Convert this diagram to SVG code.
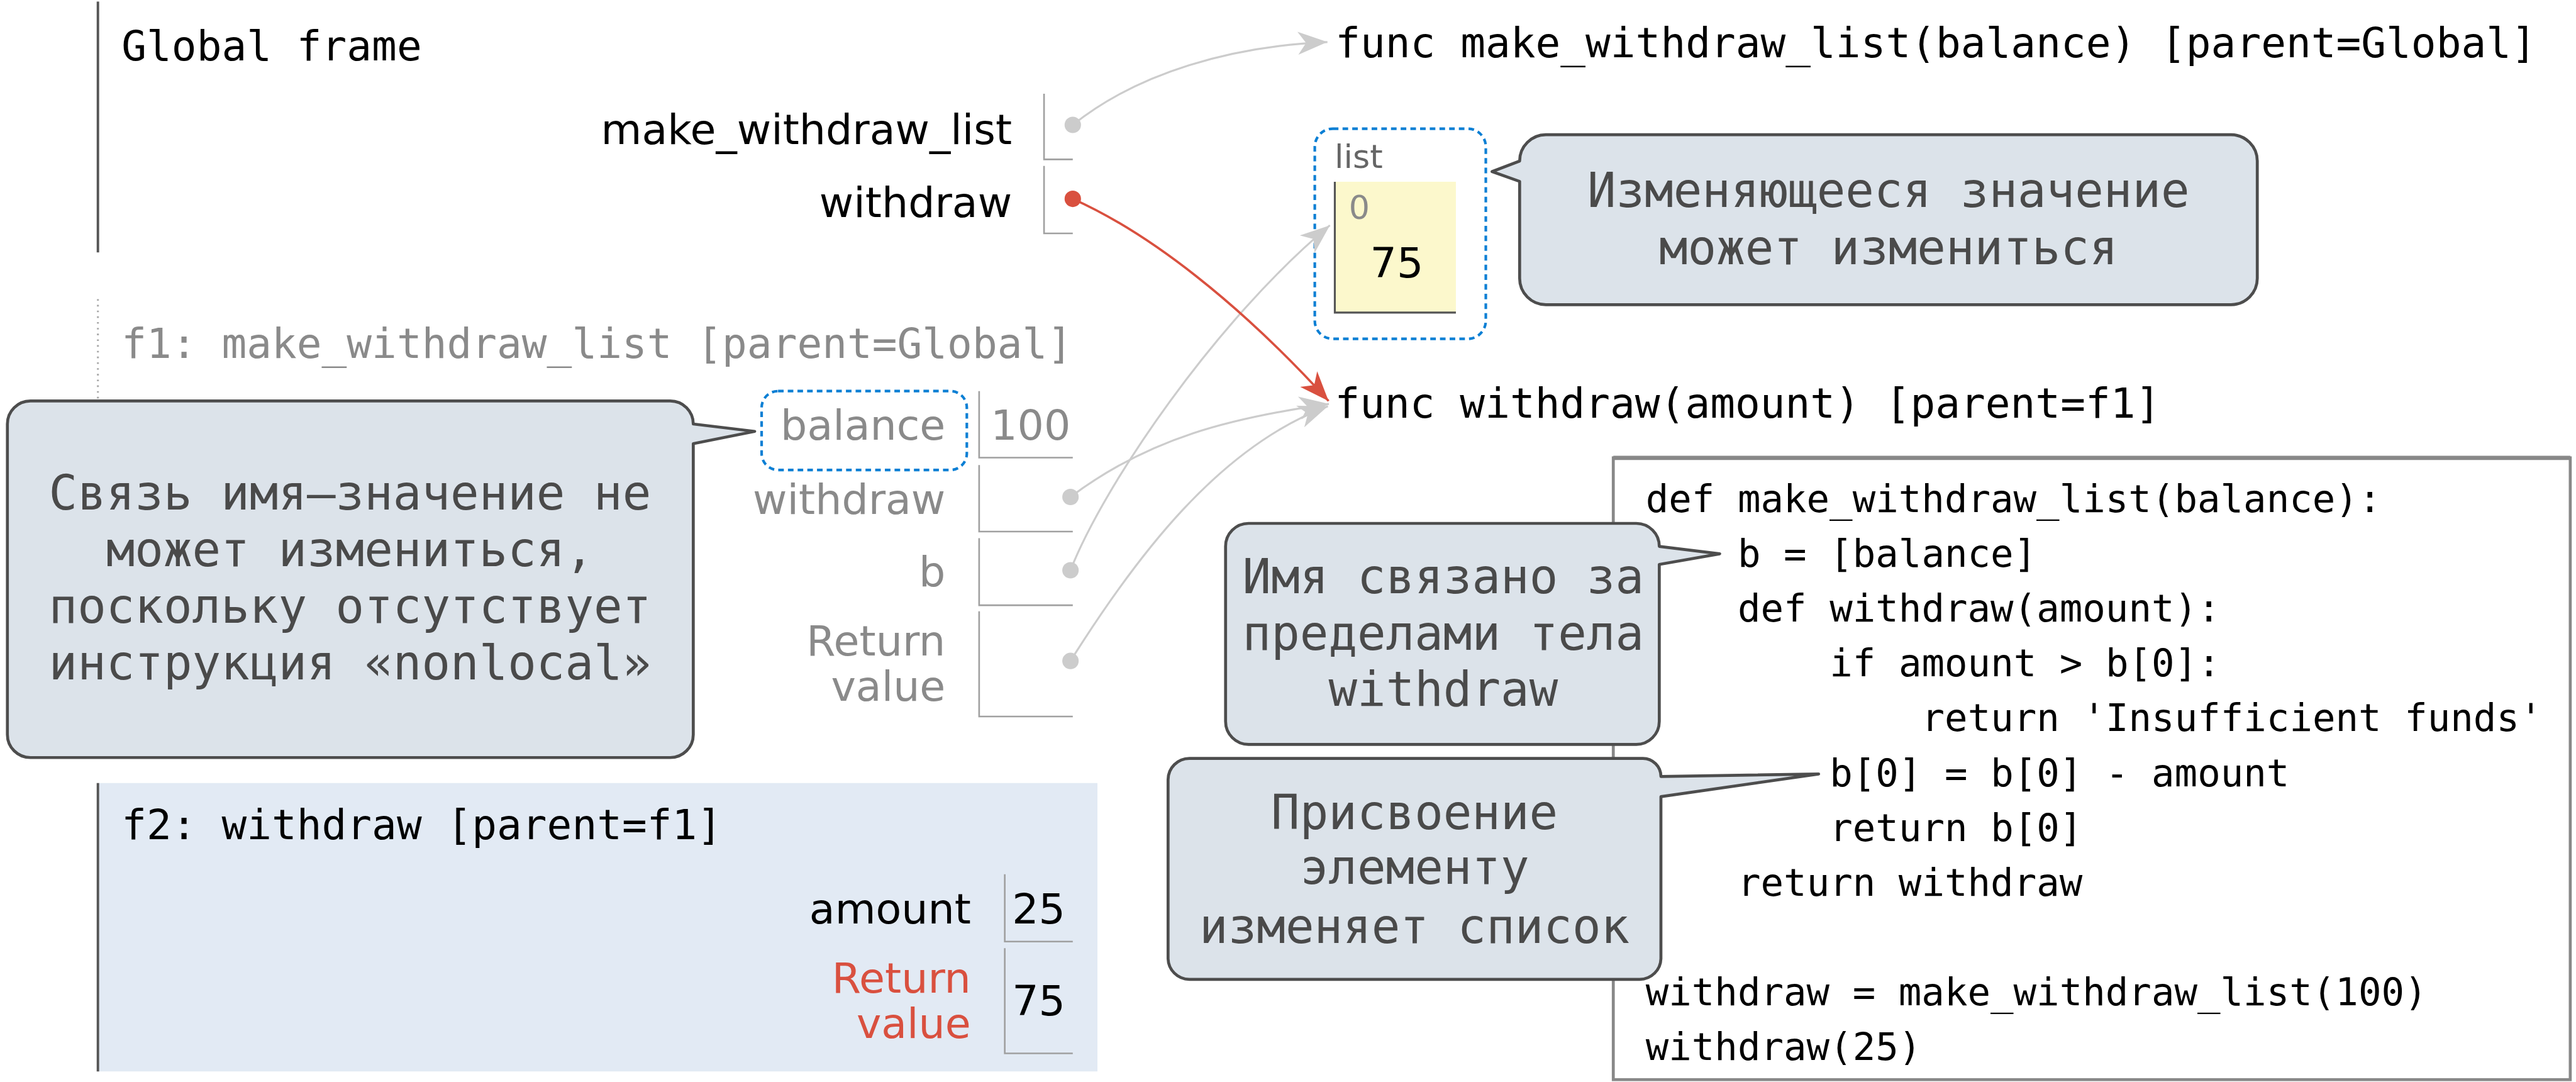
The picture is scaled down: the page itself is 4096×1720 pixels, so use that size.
<svg xmlns="http://www.w3.org/2000/svg" width="4096" height="1720" viewBox="0 0 4096 1720">
<defs>
<style>
.mono{font-family:"DejaVu Sans Mono","Liberation Mono",monospace}
.sans{font-family:"DejaVu Sans","Liberation Sans",sans-serif}
.title{font-size:25.3px;fill:#000}
.lbl{font-size:25.5px;text-anchor:end;fill:#000}
.val{font-size:25.5px;fill:#000}
.dim{fill:#8a8a8a}
.red{fill:#d9503f}
.code{font-size:23.25px;fill:#000}
.note{font-size:29px;fill:#4a4a4a;text-anchor:middle}
.callout{fill:#dce3ea;stroke:#4d4d4d;stroke-width:1.8;stroke-linejoin:round}
.cell{fill:none;stroke:#a0a0a0;stroke-width:1}
.ptr{fill:none;stroke:#cccccc;stroke-width:1.2}
.ptr-red{fill:none;stroke:#d9503f;stroke-width:1.4}
.dot{fill:#cccccc}
.dot-red{fill:#d9503f}
.hl{fill:none;stroke:#0b7fd4;stroke-width:1.6;stroke-dasharray:3.4 2.5}
</style>
<marker id="ah-gray" viewBox="-20 -9 22 18" markerWidth="22" markerHeight="18" refX="0" refY="0" orient="auto" markerUnits="userSpaceOnUse" overflow="visible">
<path d="M0,0 L-18,-7 L-13,0 L-18,7 Z" fill="#cccccc"/>
</marker>
<marker id="ah-red" viewBox="-20 -9 22 18" markerWidth="22" markerHeight="18" refX="0" refY="0" orient="auto" markerUnits="userSpaceOnUse" overflow="visible">
<path d="M0,0 L-18,-7 L-13,0 L-18,7 Z" fill="#d9503f"/>
</marker>
</defs>
<rect width="4096" height="1720" fill="#ffffff"/>
<g transform="scale(2.612245)">

<g id="global-frame">
<line x1="59.6" y1="1" x2="59.6" y2="153.6" stroke="#555" stroke-width="1.5"/>
<text x="74" y="36.6" class="mono title">Global frame</text>
</g>
<g id="global-make_withdraw_list">
<text x="616" y="87.6" class="sans lbl">make_withdraw_list</text>
<path d="M635.5,57 V97 H653" class="cell"/>
</g>
<g id="global-withdraw">
<text x="616" y="132" class="sans lbl">withdraw</text>
<path d="M635.5,101 V142 H653" class="cell"/>
</g>

<g id="f1-frame">
<line x1="59.6" y1="182" x2="59.6" y2="445" stroke="#aaa" stroke-width="1.2" stroke-dasharray="1 2.5"/>
<text x="74" y="217.7" class="mono title dim">f1: make_withdraw_list [parent=Global]</text>
</g>
<g id="f1-balance">
<text x="575.5" y="267.7" class="sans lbl dim">balance</text>
<path d="M596,238 V278.5 H653" class="cell"/>
<text x="603" y="267.7" class="sans val dim">100</text>
<rect x="463.6" y="238" width="124.9" height="48" rx="10" class="hl"/>
</g>
<g id="f1-withdraw">
<text x="575.5" y="312.7" class="sans lbl dim">withdraw</text>
<path d="M596,283 V323.5 H653" class="cell"/>
</g>
<g id="f1-b">
<text x="575.5" y="356.8" class="sans lbl dim">b</text>
<path d="M596,327.5 V368.3 H653" class="cell"/>
</g>
<g id="f1-return">
<text x="575.5" y="399" class="sans lbl dim">Return</text>
<text x="575.5" y="426.4" class="sans lbl dim">value</text>
<path d="M596,372 V436 H653" class="cell"/>
</g>

<g id="f2-frame">
<rect x="59.6" y="476.5" width="608.4" height="175.5" fill="#e2eaf4"/>
<line x1="59.6" y1="476.5" x2="59.6" y2="652" stroke="#555" stroke-width="1.5"/>
<text x="74" y="510.6" class="mono title">f2: withdraw [parent=f1]</text>
</g>
<g id="f2-amount">
<text x="591" y="562" class="sans lbl">amount</text>
<path d="M611.6,532 V573 H653" class="cell"/>
<text x="616" y="562" class="sans val">25</text>
</g>
<g id="f2-return">
<text x="591" y="604" class="sans lbl red">Return</text>
<text x="591" y="631.5" class="sans lbl red">value</text>
<path d="M611.6,577 V641 H653" class="cell"/>
<text x="616" y="618" class="sans val">75</text>
</g>

<g id="func-make_withdraw_list">
<text x="812.8" y="34.7" class="mono title">func make_withdraw_list(balance) [parent=Global]</text>
</g>
<g id="func-withdraw">
<text x="812.5" y="254.3" class="mono title">func withdraw(amount) [parent=f1]</text>
</g>

<g id="list-object">
<rect x="800.3" y="78.3" width="104.1" height="127.9" rx="11" class="hl"/>
<text x="812.3" y="102.4" class="sans" font-size="20" fill="#666">list</text>
<rect x="812.5" y="110.6" width="73.7" height="79.6" fill="#fcf8cc"/>
<path d="M812.5,110.6 V190.2 H886.2" fill="none" stroke="#555" stroke-width="1.2"/>
<text x="821" y="133.3" class="sans dim" font-size="20">0</text>
<text x="834" y="169" class="sans val">75</text>
</g>

<g id="code">
<rect x="982" y="278.6" width="582.5" height="378.4" fill="#fff" stroke="#888" stroke-width="1.8"/>
<line x1="982" y1="278.6" x2="1564.5" y2="278.6" stroke="#888" stroke-width="2.6"/>
<text class="mono code" x="1001.7" y="311.6">def make_withdraw_list(balance):</text>
<text class="mono code" x="1057.7" y="344.95">b = [balance]</text>
<text class="mono code" x="1057.7" y="378.3">def withdraw(amount):</text>
<text class="mono code" x="1113.7" y="411.65">if amount &gt; b[0]:</text>
<text class="mono code" x="1169.7" y="445">return 'Insufficient funds'</text>
<text class="mono code" x="1113.7" y="478.35">b[0] = b[0] - amount</text>
<text class="mono code" x="1113.7" y="511.7">return b[0]</text>
<text class="mono code" x="1057.7" y="545.05">return withdraw</text>
<text class="mono code" x="1001.7" y="611.75">withdraw = make_withdraw_list(100)</text>
<text class="mono code" x="1001.7" y="645.1">withdraw(25)</text>
</g>

<g id="connectors">
<path d="M653,76 C693,44 750,28 808,25.6" class="ptr" marker-end="url(#ah-gray)"/>
<path d="M651.6,302.4 C699.6,266.4 749.5,254.2 808.9,245.8" class="ptr" marker-end="url(#ah-gray)"/>
<path d="M651.6,347 C672,295 740,195 809.5,137.1" class="ptr" marker-end="url(#ah-gray)"/>
<path d="M651.6,402.2 C692,338 742,272 808.3,247.2" class="ptr" marker-end="url(#ah-gray)"/>
<path d="M653,121 C700,142 755,185 808.7,244" class="ptr-red" marker-end="url(#ah-red)"/>
<circle cx="653" cy="76" r="5" class="dot"/>
<circle cx="653" cy="121" r="5" class="dot-red"/>
<circle cx="651.6" cy="302.4" r="5" class="dot"/>
<circle cx="651.6" cy="347" r="5" class="dot"/>
<circle cx="651.6" cy="402.2" r="5" class="dot"/>
</g>

<g id="callout-binding">
<path class="callout" d="M18.5,244 H408 A14,14 0 0 1 422,258 L459.4,262.5 L422,270 V447 A14,14 0 0 1 408,461 H18.5 A14,14 0 0 1 4.5,447 V258 A14,14 0 0 1 18.5,244 Z"/>
<text class="mono note" x="213" y="310">Связь имя—значение не</text>
<text class="mono note" x="213" y="344.5">может измениться,</text>
<text class="mono note" x="213" y="379">поскольку отсутствует</text>
<text class="mono note" x="213" y="413.6">инструкция «nonlocal»</text>
</g>
<g id="callout-mutable">
<path class="callout" d="M941,82 H1358 A16,16 0 0 1 1374,98 V169.4 A16,16 0 0 1 1358,185.4 H941 A16,16 0 0 1 925,169.4 V110.4 L908.2,104.4 L925,98 A16,16 0 0 1 941,82 Z"/>
<text class="mono note" x="1149.5" y="126">Изменяющееся значение</text>
<text class="mono note" x="1149.5" y="160.6">может измениться</text>
</g>
<g id="callout-name">
<path class="callout" d="M760,318.5 H996 A14,14 0 0 1 1010,332.5 L1046.8,337 L1010,343.5 V439 A14,14 0 0 1 996,453 H760 A14,14 0 0 1 746,439 V332.5 A14,14 0 0 1 760,318.5 Z"/>
<text class="mono note" x="878.5" y="361">Имя связано за</text>
<text class="mono note" x="878.5" y="395.5">пределами тела</text>
<text class="mono note" x="878.5" y="429.7">withdraw</text>
</g>
<g id="callout-assign">
<path class="callout" d="M724,461.5 H1000 A11,11 0 0 1 1011,472.5 L1107,471 L1011,484.8 V583 A13,13 0 0 1 998,596 H724 A13,13 0 0 1 711,583 V474.5 A13,13 0 0 1 724,461.5 Z"/>
<text class="mono note" x="861" y="504.6">Присвоение</text>
<text class="mono note" x="861" y="538">элементу</text>
<text class="mono note" x="861" y="573.7">изменяет список</text>
</g>

</g>
</svg>
